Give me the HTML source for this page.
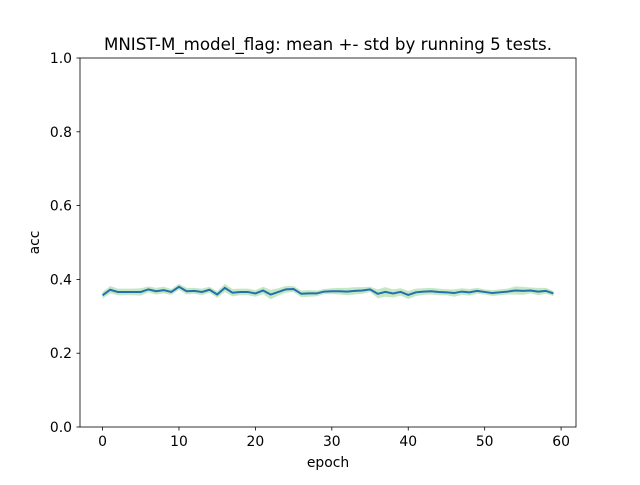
<!DOCTYPE html>
<html><head><meta charset="utf-8"><style>
body{margin:0;background:#fff}
text{font-family:"DejaVu Sans","Liberation Sans",sans-serif;fill:#000}
</style></head><body>
<svg id="chart" width="640" height="480" xmlns="http://www.w3.org/2000/svg">
<rect width="640" height="480" fill="#fff"/>
<text x="328" y="50" font-size="16.67" text-anchor="middle">MNIST-M_model_flag: mean +- std by running 5 tests.</text>
<g id="band"></g>
<g id="line"></g>
<rect x="80" y="58" width="496" height="369" fill="none" stroke="#000" stroke-width="0.8"/>
<g id="xticks"></g>
<g id="yticks"></g>
<text x="328" y="467" font-size="13.9" text-anchor="middle">epoch</text>
<text x="39" y="242.5" font-size="13.9" text-anchor="middle" transform="rotate(-90 39 242.5)">acc</text>
</svg>
<script>
const meanVals=[0.357,0.372,0.366,0.366,0.366,0.366,0.373,0.368,0.371,0.366,0.380,0.368,0.369,0.366,0.372,0.359,0.377,0.364,0.366,0.366,0.362,0.370,0.359,0.366,0.373,0.374,0.361,0.362,0.362,0.367,0.368,0.368,0.367,0.369,0.370,0.373,0.361,0.366,0.362,0.366,0.358,0.365,0.367,0.368,0.366,0.365,0.363,0.367,0.365,0.369,0.366,0.363,0.365,0.367,0.370,0.369,0.370,0.367,0.369,0.362];
const stdVals=[0.009,0.010,0.009,0.009,0.009,0.010,0.008,0.009,0.009,0.008,0.008,0.009,0.008,0.009,0.008,0.009,0.011,0.010,0.009,0.009,0.009,0.010,0.013,0.010,0.009,0.008,0.009,0.009,0.008,0.007,0.008,0.009,0.010,0.010,0.009,0.007,0.012,0.013,0.011,0.010,0.011,0.010,0.009,0.009,0.009,0.008,0.010,0.009,0.009,0.008,0.007,0.008,0.008,0.008,0.011,0.011,0.008,0.010,0.008,0.007];
const xTicks=[0,10,20,30,40,50,60];
const yTicks=[0.0,0.2,0.4,0.6,0.8,1.0];
const NS="http://www.w3.org/2000/svg";
const sx=v=>80+(v+2.95)*496/64.9;
const sy=v=>427-v*369;
function mk(tag,attrs,parent){const e=document.createElementNS(NS,tag);for(const k in attrs)e.setAttribute(k,attrs[k]);parent.appendChild(e);return e;}
let up=meanVals.map((m,i)=>sx(i)+','+sy(m+stdVals[i]));
let dn=meanVals.map((m,i)=>sx(i)+','+sy(m-stdVals[i])).reverse();
const band=mk('polygon',{points:up.concat(dn).join(' '),fill:'#9fd89a','fill-opacity':'0.6',stroke:'none'},document.getElementById('band'));


const ln=mk('polyline',{points:meanVals.map((m,i)=>sx(i)+','+sy(m)).join(' '),fill:'none',stroke:'#2270b0','stroke-width':'2'},document.getElementById('line'));


const xg=document.getElementById('xticks');
xTicks.forEach(t=>{const x=sx(t);
 const l=mk('line',{x1:x,x2:x,y1:427,y2:430.5,stroke:'#000','stroke-width':'0.8'},xg);
 
 
 const tx=mk('text',{x:x,y:446,'font-size':'13.9','text-anchor':'middle'},xg);tx.textContent=t;
 
 });
const yg=document.getElementById('yticks');
yTicks.forEach(t=>{const y=sy(t);
 const l=mk('line',{x1:76.5,x2:80,y1:y,y2:y,stroke:'#000','stroke-width':'0.8'},yg);
 
 
 const tx=mk('text',{x:72,y:y+5,'font-size':'13.9','text-anchor':'end'},yg);tx.textContent=t.toFixed(1);
 
 });
</script>
</body></html>
